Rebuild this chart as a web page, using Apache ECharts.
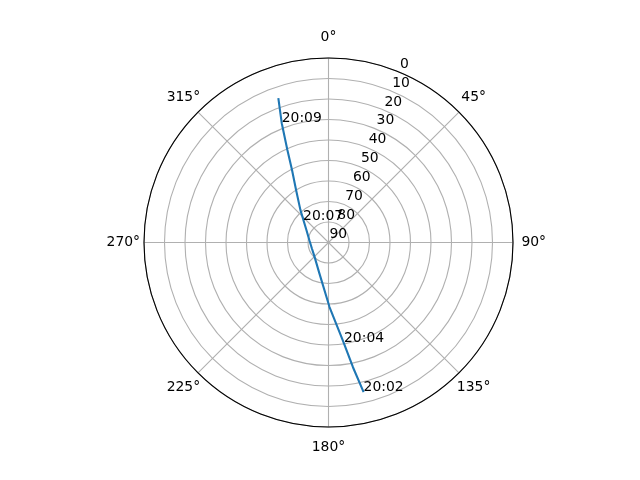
<!DOCTYPE html>
<html>
<head>
<meta charset="utf-8">
<script src="https://cdn.jsdelivr.net/npm/echarts@6/dist/echarts.min.js"></script>
<style>html,body{margin:0;padding:0;background:#fff}#c{width:640px;height:480px}</style>
</head>
<body>
<div id="c"></div>
<script>
// Satellite pass track: elevation (deg) and azimuth (deg)
const trackEl = [15.0, 28.0, 41.7, 58.5, 74.2, 80.4, 81.4, 80.6, 77.7, 69.1, 59.9, 50.4, 40.6, 27.5, 15.4];
const trackAz = [166.8, 168.9, 171.7, 179.1, 196.2, 226.0, 251.0, 276.9, 299.2, 319.1, 328.3, 333.3, 336.05, 338.6, 340.85];
// Time annotations
const timeLabels = ['20:02', '20:04', '20:07', '20:09'];
const timeEl = [15.0, 40.2, 73.8, 27.8];
const timeAz = [166.8, 171.25, 310.1, 338.5];
// Radial tick labels (elevation), drawn along the 22.5 deg direction
const radialTicks = [0, 10, 20, 30, 40, 50, 60, 70, 80, 90];
const radialLabelAz = 22.5;
// Angular tick labels
const angleTicks = [0, 45, 90, 135, 180, 225, 270, 315];
const angleLabelPad = -10.1; // label ring just outside the 0-elevation circle

const FONT = 'DejaVu Sans';
const FS = 13.9;

const labelSeries = (data, align, vAlign, offset, z) => ({
  type: 'scatter', coordinateSystem: 'polar', symbolSize: 0, clip: false, silent: true, z: z,
  itemStyle: { opacity: 1 },
  data: data,
  label: { show: true, position: [0, 0], align: align, verticalAlign: vAlign, offset: offset,
    formatter: '{b}', color: '#000', opacity: 1, fontFamily: FONT, fontSize: FS }
});

const chart = echarts.init(document.getElementById('c'), null, {renderer: 'canvas'});
chart.setOption({
  animation: false,
  backgroundColor: '#ffffff',
  polar: { center: [328.5, 242.5], radius: 184.5 },
  angleAxis: {
    type: 'value', min: 0, max: 360, interval: 45,
    startAngle: 90, clockwise: true, z: 3,
    axisLine: { show: true, lineStyle: { color: '#000', width: 1.1 } },
    axisTick: { show: false },
    axisLabel: { show: false },
    splitLine: { show: true, lineStyle: { color: '#b0b0b0', width: 1.1 } }
  },
  radiusAxis: {
    type: 'value', min: 0, max: 90, interval: 10, inverse: true, z: 1,
    axisLine: { show: false }, axisTick: { show: false }, axisLabel: { show: false },
    splitLine: { show: true, lineStyle: { color: '#b0b0b0', width: 1.1 } }
  },
  series: [
    labelSeries(angleTicks.map(a => ({ name: a + '°', value: [angleLabelPad, a] })), 'center', 'middle', [0, 0], 4),
    labelSeries(radialTicks.map(v => ({ name: String(v), value: [v, radialLabelAz] })), 'left', 'bottom', [1, -1], 4),
    {
      type: 'line', coordinateSystem: 'polar', showSymbol: false, clip: false, z: 5,
      data: trackEl.map((e, i) => [e, trackAz[i]]),
      lineStyle: { color: '#1f77b4', width: 2.1 }
    },
    labelSeries(timeLabels.map((t, i) => ({ name: t, value: [timeEl[i], timeAz[i]] })), 'left', 'bottom', [0, 2], 6)
  ]
});
</script>
</body>
</html>
